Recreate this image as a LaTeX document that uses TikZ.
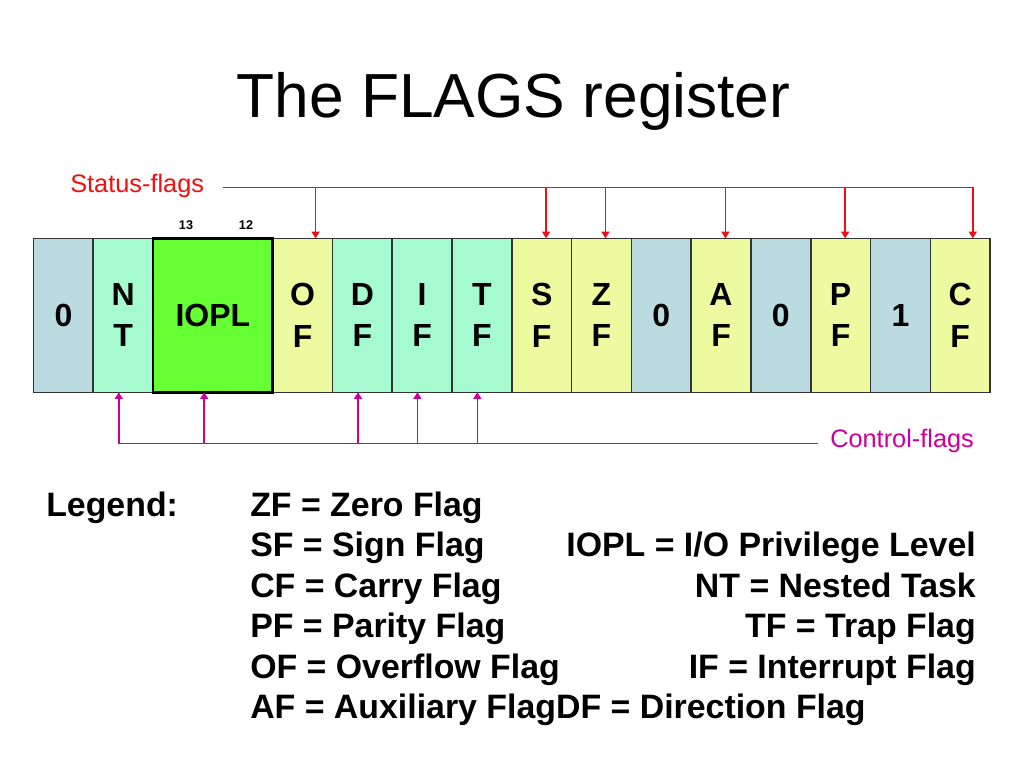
\documentclass[tikz,border=0pt]{standalone}
\usepackage{fontspec}
\setmainfont{Liberation Sans}
\usetikzlibrary{arrows.meta,positioning}

\definecolor{fixcol}{RGB}{186,220,225}
\definecolor{ctrlcol}{RGB}{165,250,208}
\definecolor{ioplcol}{RGB}{102,255,51}
\definecolor{statcol}{RGB}{238,250,160}
\definecolor{statred}{RGB}{240,15,15}
\definecolor{ctrlmag}{RGB}{204,0,153}

\tikzset{
  bit/.style={minimum width=44.84pt, minimum height=115.5pt, inner sep=0pt, outer sep=0pt,
    align=center, font=\fontsize{24}{31}\selectfont\bfseries},
  bitline/.style={draw=black!80, line width=1.2pt},
  bitno/.style={inner sep=0pt, font=\fontsize{9.5}{10}\selectfont\bfseries},
  flagtext/.style={inner sep=0pt, anchor=base west, font=\fontsize{19}{20}\selectfont},
  sflag/.style={statred, line width=1.1pt, -{Triangle[length=5pt,width=6pt]}},
  cflag/.style={ctrlmag, line width=1.1pt, -{Triangle[length=5pt,width=6pt]}},
  legend/.style={inner sep=0pt, font=\fontsize{25.4}{30}\selectfont\bfseries}
}

\begin{document}
\begin{tikzpicture}[x=0.75pt, y=-0.75pt]
    \fill[white] (0,0) rectangle (1024,768);
    \useasboundingbox (0,0) rectangle (1024,768);

    \node[anchor=base, inner sep=0pt, font=\fontsize{46.7}{56}\selectfont] (title) at (513.5,117.3) {The FLAGS register};

    % bits 15 .. 0
    \node[bit, fill=fixcol] (b15) at (63.4,315.3) {0};
    \node[bit, fill=ctrlcol, right=0pt of b15] (bnt) {N\\T};
    \node[bit, fill=ioplcol, minimum width=89.67pt, right=0pt of bnt] (biopl) {IOPL};
    \node[bit, fill=statcol, right=0pt of biopl] (bof) {O\\F};
    \node[bit, fill=ctrlcol, right=0pt of bof] (bdf) {D\\F};
    \node[bit, fill=ctrlcol, right=0pt of bdf] (bif) {I\\F};
    \node[bit, fill=ctrlcol, right=0pt of bif] (btf) {T\\F};
    \node[bit, fill=statcol, right=0pt of btf] (bsf) {S\\F};
    \node[bit, fill=statcol, right=0pt of bsf] (bzf) {Z\\F};
    \node[bit, fill=fixcol, right=0pt of bzf] (b5) {0};
    \node[bit, fill=statcol, right=0pt of b5] (baf) {A\\F};
    \node[bit, fill=fixcol, right=0pt of baf] (b3) {0};
    \node[bit, fill=statcol, right=0pt of b3] (bpf) {P\\F};
    \node[bit, fill=fixcol, right=0pt of bpf] (b1) {1};
    \node[bit, fill=statcol, right=0pt of b1] (bcf) {C\\F};
    \foreach \c in {b15,bnt,bof,bdf,bif,btf,bsf,bzf,b5,baf,b3,bpf,b1,bcf}
        \draw[bitline] (\c.south west) rectangle (\c.north east);
    \draw[line width=1.9pt] (biopl.south west) rectangle (biopl.north east);

    \node[bitno, anchor=base] (n13) at (186,229.5) {13};
    \node[bitno, anchor=base] (n12) at (246,229.5) {12};

    % status flags
    \node[flagtext, text=statred] (stat) at (70,192.3) {Status-flags};
    \coordinate (sbus) at (222.7,187.3);
    \path ([xshift=9.45pt]bcf.north) coordinate (scf);
    \draw[sflag] (sbus) -| (scf);
    \foreach \c/\dx in {bof/9.8pt, bsf/3.3pt, bzf/3pt, baf/3.3pt, bpf/3.4pt} {
        \path ([xshift=\dx]\c.north) coordinate (tip);
        \draw[sflag] (tip |- sbus) -- (tip);
    }

    % control flags
    \node[flagtext, text=ctrlmag] (ctrl) at (830,447.3) {Control-flags};
    \coordinate (cbus) at (817.5,443.3);
    \path ([xshift=-3.3pt]bnt.south) coordinate (cnt);
    \draw[cflag] (cbus) -| (cnt);
    \foreach \c/\dx in {biopl/-6.5pt, bdf/-3.2pt, bif/-3.5pt, btf/-3.4pt} {
        \path ([xshift=\dx]\c.south) coordinate (tip);
        \draw[cflag] (tip |- cbus) -- (tip);
    }

    % legend
    \node[legend, anchor=base west] (leg) at (46,516) {Legend:};
    \foreach \txt [count=\i] in {ZF = Zero Flag, SF = Sign Flag, CF = Carry Flag, PF = Parity Flag,
        OF = Overflow Flag, AF = Auxiliary FlagDF = Direction Flag}
        \node[legend, anchor=base west] (l\i) at (250,516+40.5*\i-40.5) {\txt};
    \foreach \txt [count=\i from 2] in {IOPL = I/O Privilege Level, NT = Nested Task,
        TF = Trap Flag, IF = Interrupt Flag}
        \node[legend, anchor=base east] (r\i) at (976,516+40.5*\i-40.5) {\txt};
\end{tikzpicture}
\end{document}
